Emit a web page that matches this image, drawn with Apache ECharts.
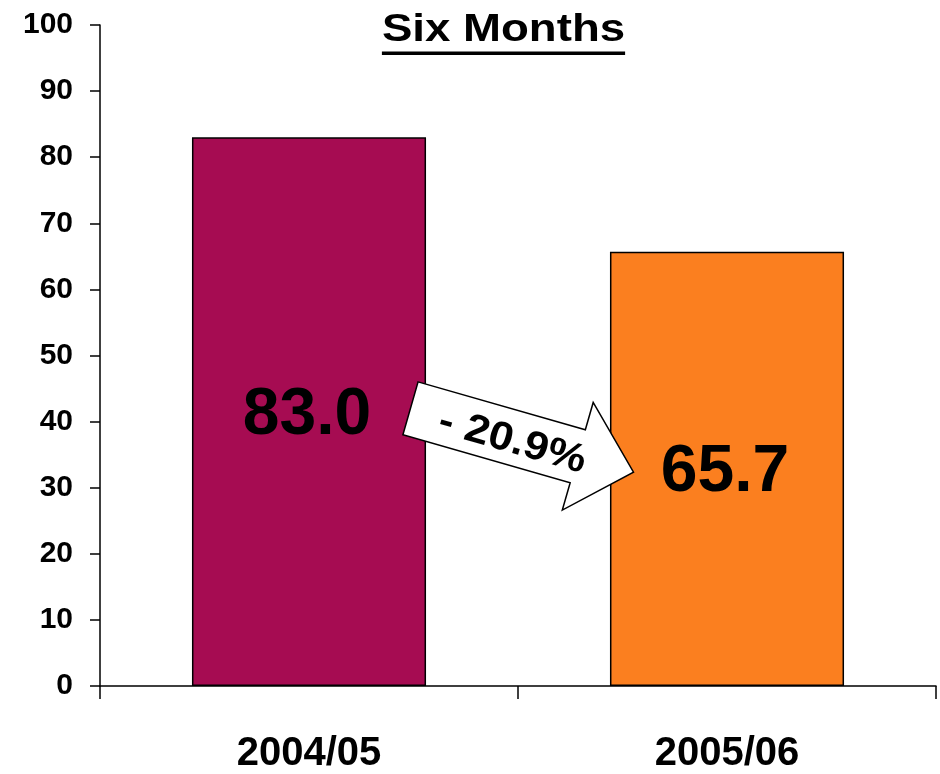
<!DOCTYPE html>
<html>
<head>
<meta charset="utf-8">
<style>
  html, body { margin: 0; padding: 0; background: #ffffff; }
  #chart { width: 940px; height: 774px; }
</style>
<script src="https://cdn.jsdelivr.net/npm/echarts@6/dist/echarts.min.js"></script>
</head>
<body>
<div id="chart"></div>
<script>
// Periods and the six-month figures for each
const categories = ['2004/05', '2005/06'];
const values = [83.0, 65.7];
const barColors = ['#A60C52', '#FB7F1F'];
const changeLabel = '- 20.9%';
const titleText = 'Six Months';

const FONT = '"Liberation Sans", Arial, Helvetica, sans-serif';

const chart = echarts.init(document.getElementById('chart'), null, { renderer: 'canvas' });

chart.setOption({
  animation: false,
  backgroundColor: '#ffffff',
  grid: { left: 100, right: 4, top: 25, bottom: 86, containLabel: false },
  xAxis: {
    type: 'category',
    data: categories,
    boundaryGap: true,
    axisLine: { lineStyle: { color: '#000', width: 1.5 } },
    axisTick: { show: true, length: 13, inside: false, lineStyle: { color: '#000', width: 1.5 } },
    axisLabel: {
      color: '#000', fontFamily: FONT, fontWeight: 'bold', fontSize: 40,
      margin: 68, verticalAlign: 'middle'
    },
    splitLine: { show: false }
  },
  yAxis: {
    type: 'value',
    min: 0, max: 100, interval: 10,
    axisLine: { show: true, lineStyle: { color: '#000', width: 1.5 } },
    axisTick: { show: true, length: 10, inside: false, lineStyle: { color: '#000', width: 1.5 } },
    axisLabel: { color: '#000', fontFamily: FONT, fontWeight: 'bold', fontSize: 30, margin: 27 },
    splitLine: { show: false }
  },
  series: [{
    type: 'bar',
    barWidth: '56%',
    data: values.map((v, i) => ({
      value: v,
      itemStyle: { color: barColors[i], borderColor: '#000', borderWidth: 1.5 }
    })),
    label: {
      show: true,
      position: 'inside',
      offset: [-2, 4],
      formatter: p => p.value.toFixed(1),
      color: '#000', fontFamily: FONT, fontWeight: 'bold', fontSize: 66
    }
  }]
});

// Underlined heading
const titleFontSize = 38;
const titleScaleX = 1.2;
const measureCtx = document.createElement('canvas').getContext('2d');
measureCtx.font = 'bold ' + titleFontSize + 'px ' + FONT;
const titleWidth = measureCtx.measureText(titleText).width * titleScaleX;

// Change arrow sits between the middles of the two bars
const a = chart.convertToPixel({ seriesIndex: 0 }, [0, values[0] / 2]);
const b = chart.convertToPixel({ seriesIndex: 0 }, [1, values[1] / 2]);
const arrowX = (a[0] + b[0]) / 2 + 4;
const arrowY = (a[1] + b[1]) / 2;

chart.setOption({
  graphic: [
    {
      type: 'group',
      x: 503.5,
      y: 0,
      z: 100,
      children: [
        {
          type: 'text',
          x: 0, y: 31,
          scaleX: titleScaleX,
          z: 100,
          style: {
            text: titleText,
            font: 'bold ' + titleFontSize + 'px ' + FONT,
            fill: '#000',
            align: 'center',
            verticalAlign: 'middle'
          }
        },
        {
          type: 'rect',
          z: 100,
          shape: { x: -titleWidth / 2, y: 51.5, width: titleWidth, height: 3.5 },
          style: { fill: '#000' }
        }
      ]
    },
    {
      type: 'group',
      x: arrowX,
      y: arrowY,
      z: 100,
      rotation: -16 * Math.PI / 180,
      children: [
        {
          type: 'polygon',
          z: 100,
          shape: {
            points: [[-116, -27.5], [58, -27.5], [58, -56], [116, 0], [58, 56], [58, 27.5], [-116, 27.5]]
          },
          style: { fill: '#ffffff', stroke: '#000', lineWidth: 1.5 }
        },
        {
          type: 'text',
          z: 101,
          x: -9, y: 4,
          scaleX: 1.1,
          style: {
            text: changeLabel,
            font: 'bold 40px ' + FONT,
            fill: '#000',
            align: 'center',
            verticalAlign: 'middle'
          }
        }
      ]
    }
  ]
});
</script>
</body>
</html>
